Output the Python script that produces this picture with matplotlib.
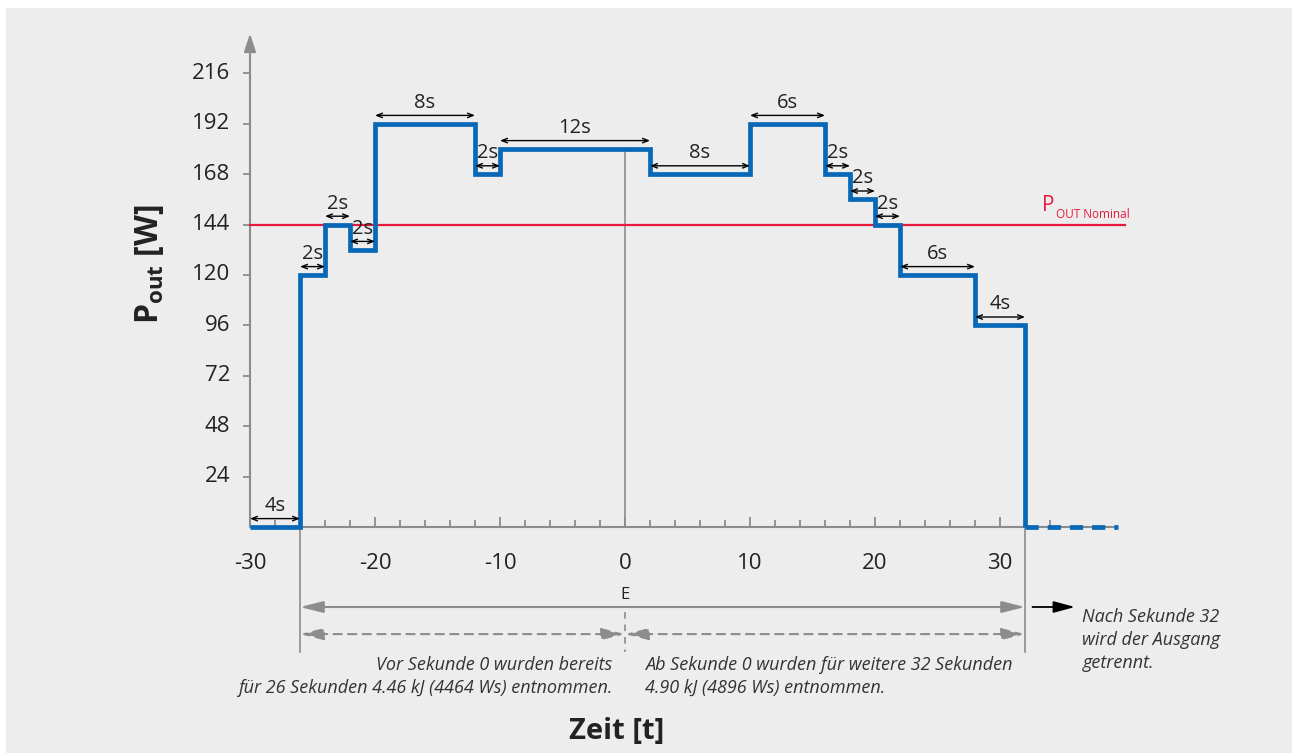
import matplotlib
matplotlib.use("Agg")
import matplotlib.pyplot as plt
from matplotlib.patches import Rectangle

plt.rcParams['font.family'] = ['Open Sans', 'DejaVu Sans']
plt.rcParams['mathtext.fontset'] = 'custom'
plt.rcParams['mathtext.rm'] = 'Open Sans'
plt.rcParams['mathtext.it'] = 'Open Sans:italic'
plt.rcParams['mathtext.bf'] = 'Open Sans:bold'

# ---------------- data ----------------
step_edges = [-30, -26, -24, -22, -20, -12, -10, 2, 10, 16, 18, 20, 22, 28, 32]
step_levels = [0, 120, 144, 132, 192, 168, 180, 168, 192, 168, 156, 144, 120, 96]
off_level = 0
tail_end = 39.4
x_tick_values = [-30, -20, -10, 0, 10, 20, 30]
y_tick_values = [24, 48, 72, 96, 120, 144, 168, 192, 216]
nominal_power = 144
x_axis_end = 39.4
y_axis_top = 235
before_span = (-26, 0)
after_span = (0, 32)
text_before = "Vor Sekunde 0 wurden bereits\nfür 26 Sekunden 4.46 kJ (4464 Ws) entnommen."
text_after = "Ab Sekunde 0 wurden für weitere 32 Sekunden\n4.90 kJ (4896 Ws) entnommen."
text_after32 = "Nach Sekunde 32\nwird der Ausgang\ngetrennt."

# ---------------- colours ----------------
BLUE = '#0868b8'
RED = '#e8193f'
GRAY = '#8c8c8c'
TXT = '#222222'
BG = '#ededed'

W, H = 1292, 753
fig = plt.figure(figsize=(W / 100, H / 100), dpi=100)
fig.patch.set_facecolor('white')
bg = Rectangle((6 / W, 0), 1, (H - 8) / H, transform=fig.transFigure,
               facecolor=BG, edgecolor='none', linewidth=0, zorder=-10)
fig.patches.append(bg)

ax = fig.add_axes([0, 0, 1, 1])
ax.set_zorder(5)
px_x = 12.5   # pixels per second
px_y = 2.1    # pixels per watt
x0 = -30 - 250 / px_x
y0 = -(H - 527) / px_y
ax.set_xlim(x0, x0 + W / px_x)
ax.set_ylim(y0, y0 + H / px_y)
ax.axis('off')
ax.patch.set_visible(False)

# ---------------- axes ----------------
ax.plot([-30, x_axis_end], [0, 0], color=GRAY, lw=1.5, zorder=2, solid_capstyle='butt')
ax.annotate('', xy=(-30, y_axis_top), xytext=(-30, 0),
            arrowprops=dict(arrowstyle='-|>,head_length=1.1,head_width=0.36', color=GRAY,
                            lw=1.5, shrinkA=0, shrinkB=0, mutation_scale=10), zorder=2)
ax.hlines(y_tick_values, -30 - 0.6, -30, color=GRAY, lw=1.3, zorder=2)
for v in y_tick_values:
    ax.text(-31.6, v, str(v), ha='right', va='center', fontsize=16, color=TXT)

minor_x = [x for x in range(-28, 36, 2)]
for x in minor_x:
    ln = 5.0 if x % 10 == 0 else 3.2
    ax.plot([x, x], [0, ln], color=GRAY, lw=1.3, zorder=2, solid_capstyle='butt')
for v in x_tick_values:
    ax.text(v, -17.3, str(v), ha='center', va='center', fontsize=16, color=TXT)

# vertical reference lines
ax.plot([0, 0], [0, step_levels[step_edges.index(-10)]], color=GRAY, lw=1.2, zorder=2)
ax.plot([-26, -26], [0, -59.5], color=GRAY, lw=1.2, zorder=2)
ax.plot([32, 32], [0, -59.5], color=GRAY, lw=1.2, zorder=2)

# nominal line
ax.plot([-30, 40.0], [nominal_power, nominal_power], color=RED, lw=1.6, zorder=3)
ax.text(33.4, 150.5, 'P', color=RED, fontsize=15, ha='left', va='baseline')
ax.text(34.45, 147.2, 'OUT Nominal', color=RED, fontsize=8.5, ha='left', va='baseline')

# ---------------- power profile ----------------
xs = step_edges
ys = step_levels + [off_level]
ax.step(xs, ys, where='post', color=BLUE, lw=3.4, zorder=5,
        solid_joinstyle='miter', solid_capstyle='butt')
ax.plot([32, tail_end], [off_level, off_level], color=BLUE, lw=3.4, zorder=5,
        dashes=(2.8, 1.9), dash_capstyle='butt')

# duration arrows
for a, b, lev in zip(step_edges[:-1], step_edges[1:], step_levels):
    ya = lev + 4.0
    ax.annotate('', xy=(b, ya), xytext=(a, ya),
                arrowprops=dict(arrowstyle='<->,head_length=0.5,head_width=0.2', color='black',
                                lw=1.0, shrinkA=0, shrinkB=0, mutation_scale=8), zorder=6)
    ax.text((a + b) / 2, lev + 10.0, f"{b - a}s", ha='center', va='center',
            fontsize=14.5, color=TXT, zorder=6)

# ---------------- bottom dimension lines ----------------
ax.text(0, -32.5, 'E', ha='center', va='center', fontsize=12, color=TXT)
ax.annotate('', xy=(32, -38.1), xytext=(-26, -38.1),
            arrowprops=dict(arrowstyle='<|-|>,head_length=1.4,head_width=0.35', color=GRAY,
                            lw=1.5, shrinkA=0, shrinkB=0, mutation_scale=10))
for (a, b) in (before_span, after_span):
    ax.annotate('', xy=(b, -51.0), xytext=(a, -51.0),
                arrowprops=dict(arrowstyle='<|-|>,head_length=1.4,head_width=0.35', color=GRAY,
                                lw=1.5, ls=(0, (4, 3)), shrinkA=0, shrinkB=0, mutation_scale=10))
ax.plot([0, 0], [-40.5, -59.5], color=GRAY, lw=1.2, ls=(0, (4, 3.5)))

ax.annotate('', xy=(36.0, -38.1), xytext=(32.6, -38.1),
            arrowprops=dict(arrowstyle='-|>,head_length=1.3,head_width=0.35', color='black',
                            lw=1.3, shrinkA=0, shrinkB=0, mutation_scale=10))
ax.text(36.6, -38.5, text_after32, ha='left', va='top', fontsize=13, style='italic',
        color='#333333', linespacing=1.35)

ax.text(-1.0, -61.5, text_before, ha='right', va='top', fontsize=13, style='italic',
        color='#333333', linespacing=1.35, multialignment='right')
ax.text(1.6, -61.5, text_after, ha='left', va='top', fontsize=13, style='italic',
        color='#333333', linespacing=1.35)

# axis labels
ax.text(-0.7, -97.5, 'Zeit [t]', ha='center', va='center', fontsize=21, fontweight='bold',
        color=TXT)
ax.text(-38.0, 125, r'$\mathbf{P_{out}}$ [W]', ha='center', va='center', fontsize=23,
        fontweight='bold', rotation=90, color=TXT)

fig.savefig('out.png', dpi=100, facecolor=fig.get_facecolor())
